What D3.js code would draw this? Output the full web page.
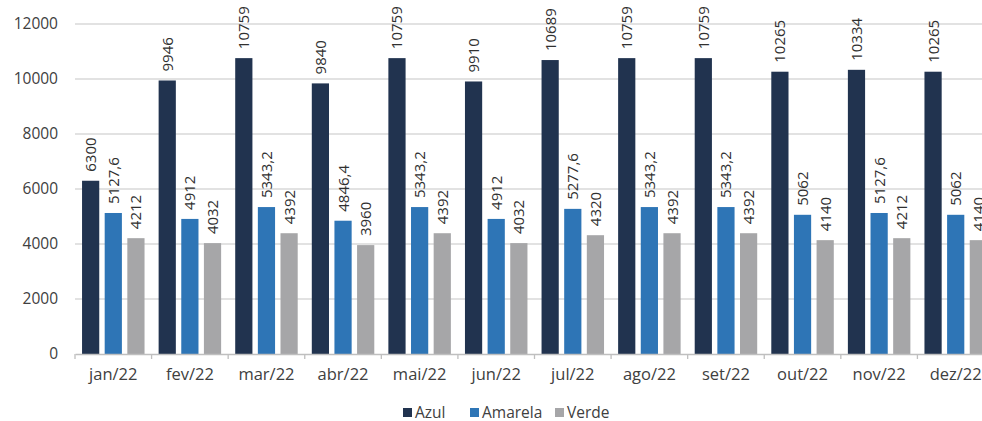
<!DOCTYPE html>
<html>
<head>
<meta charset="utf-8">
<script src="https://cdn.jsdelivr.net/npm/d3@7/dist/d3.min.js"></script>
<style>
  html, body { margin: 0; padding: 0; background: #fff; }
  svg { display: block; font-family: "Open Sans", "Noto Sans", sans-serif; }
</style>
</head>
<body>
<svg id="chart" width="982" height="421"></svg>
<script>
// Monthly values per tariff flag
const months = ["jan/22", "fev/22", "mar/22", "abr/22", "mai/22", "jun/22",
                "jul/22", "ago/22", "set/22", "out/22", "nov/22", "dez/22"];
const seriesNames = ["Azul", "Amarela", "Verde"];
const azul    = [6300, 9946, 10759, 9840, 10759, 9910, 10689, 10759, 10759, 10265, 10334, 10265];
const amarela = [5127.6, 4912, 5343.2, 4846.4, 5343.2, 4912, 5277.6, 5343.2, 5343.2, 5062, 5127.6, 5062];
const verde   = [4212, 4032, 4392, 3960, 4392, 4032, 4320, 4392, 4392, 4140, 4212, 4140];
const yTicks  = [0, 2000, 4000, 6000, 8000, 10000, 12000];
const colors  = ["#21334f", "#2e75b6", "#a6a6a8"];

const values = [azul, amarela, verde];
const svg = d3.select("#chart");

const plot = { left: 75, right: 994, top: 24, bottom: 354 };

const x = d3.scaleBand().domain(months).range([plot.left, plot.right]).padding(0);
const inner = d3.scaleBand().domain(seriesNames)
  .range([x.bandwidth() * 0.092, x.bandwidth() * 0.908])
  .paddingInner(0.24).paddingOuter(0);
const y = d3.scaleLinear().domain([0, 12000]).range([plot.bottom, plot.top]);

// horizontal gridlines
svg.append("g").selectAll("line").data(yTicks.filter(t => t > 0)).join("line")
  .attr("x1", plot.left).attr("x2", plot.right)
  .attr("y1", d => y(d)).attr("y2", d => y(d))
  .attr("stroke", "#d9d9d9").attr("stroke-width", 1.3);

// y axis labels
const yAxis = d3.axisLeft(y).tickValues(yTicks).tickSize(0).tickPadding(17).tickFormat(d3.format("d"));
const gy = svg.append("g").attr("transform", `translate(${plot.left},0)`).call(yAxis);
gy.select(".domain").remove();
gy.selectAll("text").attr("font-size", 15.5).attr("fill", "#404040")
  .attr("font-family", "'Open Sans', sans-serif");

// bars with rotated value labels
const fmt = v => String(v).replace(".", ",");
const groups = svg.append("g").selectAll("g").data(months).join("g")
  .attr("transform", d => `translate(${x(d)},0)`);

groups.each(function(m, i) {
  const g = d3.select(this);
  seriesNames.forEach((s, k) => {
    const v = values[k][i];
    g.append("rect")
      .attr("x", inner(s)).attr("width", inner.bandwidth())
      .attr("y", y(v)).attr("height", y(0) - y(v))
      .attr("fill", colors[k]);
    const cx = inner(s) + inner.bandwidth() / 2;
    g.append("text")
      .attr("transform", `translate(${cx + 5.5},${y(v) - 9}) rotate(-90)`)
      .attr("font-size", 15).attr("fill", "#303030")
      .attr("text-anchor", "start")
      .text(fmt(v));
  });
});

// x axis baseline with boundary ticks
const xAxis = d3.axisBottom(x).tickSize(0).tickPadding(14);
const gx = svg.append("g").attr("transform", `translate(0,${plot.bottom})`).call(xAxis);
gx.select(".domain").attr("stroke", "#bfbfbf").attr("stroke-width", 1.3);
gx.selectAll("text").attr("font-size", 16.5).attr("fill", "#404040")
  .attr("font-family", "'Open Sans', sans-serif");
svg.append("g").selectAll("line").data(months).join("line")
  .attr("x1", d => x(d)).attr("x2", d => x(d))
  .attr("y1", plot.bottom).attr("y2", plot.bottom + 5)
  .attr("stroke", "#bfbfbf").attr("stroke-width", 1.3);

// legend
const legendX = [403, 470, 555];
const lg = svg.append("g").selectAll("g").data(seriesNames).join("g")
  .attr("transform", (d, i) => `translate(${legendX[i]},408)`);
lg.append("rect").attr("width", 9).attr("height", 9).attr("fill", (d, i) => colors[i]);
lg.append("text").attr("x", 12).attr("y", 9.5).attr("font-size", 15.5).attr("fill", "#404040").text(d => d);
</script>
</body>
</html>
